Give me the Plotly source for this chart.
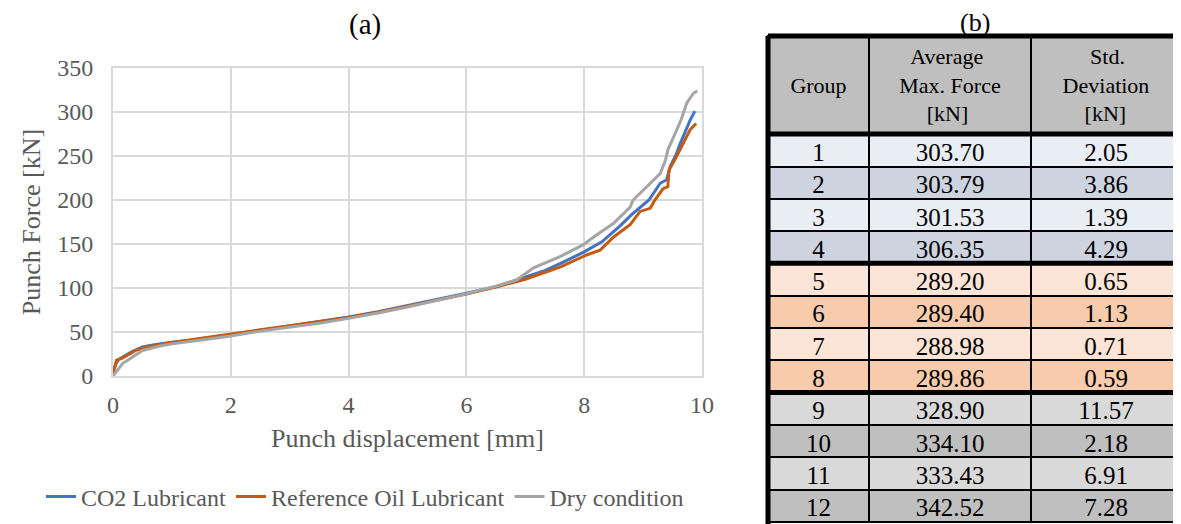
import plotly.graph_objects as go

# page has an 8px body margin: the figure is drawn in the remaining area
OFF = 8
W, H = 1181 - OFF, 524 - OFF

# ---------------- data: punch force curves ----------------
co2_x = [0, 0.05, 0.1, 0.2, 0.3, 0.4, 0.5, 0.7, 1.0, 1.5, 2.0, 2.5, 3.0, 3.5, 4.0, 4.5, 5.0, 5.5, 6.0,
         6.5, 7.0, 7.3, 7.6, 8.0, 8.3, 8.6, 8.8, 8.95, 9.1, 9.29, 9.4, 9.46, 9.55, 9.63, 9.72, 9.8, 9.88]
co2_y = [5, 14, 19, 23, 27, 30, 33, 35.5, 38.5, 42, 47, 52, 57, 62, 67, 73, 80, 86.5, 94,
         101.5, 112, 119, 128, 141, 152.5, 170, 183, 192, 200, 219, 223, 238, 250, 264, 279, 291, 301]

oil_x = [0, 0.03, 0.06, 0.15, 0.3, 0.4, 0.57, 0.9, 1.5, 2.0, 2.5, 3.0, 3.5, 4.0, 4.5, 5.0, 5.5, 6.0, 6.5,
         7.0, 7.3, 7.6, 8.04, 8.27, 8.5, 8.78, 8.95, 9.12, 9.2, 9.34, 9.42, 9.44, 9.55, 9.63, 9.72, 9.8, 9.9]
oil_y = [2, 10, 18, 20, 26, 29.5, 33, 37, 43, 48, 52.5, 57, 61.5, 66.5, 72.5, 79.5, 86, 93, 101,
         110, 117, 124, 137.5, 143, 158, 172, 187, 190.5, 200, 213, 215, 234, 247, 257, 269, 280, 287]

dry_x = [0, 0.1, 0.17, 0.25, 0.34, 0.5, 0.8, 1.0, 1.5, 2.0, 2.5, 3.0, 3.5, 4.0, 4.5, 5.0, 5.5, 6.0, 6.5,
         6.85, 7.14, 7.59, 7.98, 8.16, 8.5, 8.78, 8.83, 9.06, 9.29, 9.38, 9.42, 9.57, 9.65, 9.74, 9.85, 9.92]
dry_y = [0, 8, 14.7, 18, 22, 29, 34, 36.5, 41, 45.5, 51, 55.5, 60, 65.5, 71.5, 78.5, 86, 93.5, 102,
         109, 123, 135.6, 149, 158, 173.5, 192, 200, 215, 230, 245, 257, 279.5, 292, 310, 321, 324]

series_names = ["CO2 Lubricant", "Reference Oil Lubricant", "Dry condition"]
series_colors = ["#4472C4", "#C55A11", "#A5A5A5"]

# ---------------- data: table ----------------
groups = ["1", "2", "3", "4", "5", "6", "7", "8", "9", "10", "11", "12"]
avg_force = ["303.70", "303.79", "301.53", "306.35", "289.20", "289.40", "288.98", "289.86",
             "328.90", "334.10", "333.43", "342.52"]
std_dev = ["2.05", "3.86", "1.39", "4.29", "0.65", "1.13", "0.71", "0.59",
           "11.57", "2.18", "6.91", "7.28"]
header_lines = [["", "Group", ""],
                ["Average", "Max. Force", "[kN]"],
                ["Std.", "Deviation", "[kN]"]]
header_pad = [[0, 0, 0], [2, 0, 5], [5, 0, 4]]   # nbsp padding to centre each header line
row_colors = ["#E9EDF4", "#CDD4E0", "#E9EDF4", "#CDD4E0",
              "#FCE4D6", "#F8CBAD", "#FCE4D6", "#F8CBAD",
              "#D9D9D9", "#BFBFBF", "#D9D9D9", "#BFBFBF"]

SERIF = "Liberation Serif, Times New Roman, serif"
GRAY_TXT = "#595959"
NB = "\u00a0"

header_labels = ["<br>".join((NB * p + t) if t else NB for t, p in zip(lines, pads))
                 for lines, pads in zip(header_lines, header_pad)]


def px_x(p):
    return (p - OFF) / W


def px_y(p):
    return 1 - (p - OFF) / H


fig = go.Figure()
for xs, ys, nm, col in zip([co2_x, oil_x, dry_x], [co2_y, oil_y, dry_y], series_names, series_colors):
    fig.add_trace(go.Scatter(x=xs, y=ys, mode="lines", name=nm,
                             line=dict(color=col, width=3)))

# table geometry (reference pixels)
tab_left, tab_top = 768, 36
hdr_h, row_h = 98, 32.3
fig.add_trace(go.Table(
    domain=dict(x=[px_x(tab_left), 1.0], y=[0, px_y(tab_top)]),
    columnwidth=[101, 162, 150],
    header=dict(values=header_labels, height=hdr_h, fill_color="#BFBFBF",
                line=dict(color="black", width=2), align="center",
                font=dict(family=SERIF, size=22, color="black")),
    cells=dict(values=[groups, avg_force, std_dev], height=row_h,
               fill_color=[row_colors] * 3,
               line=dict(color="black", width=2), align="center",
               font=dict(family=SERIF, size=25, color="black")),
))

# thick separators (computed from table geometry)
shapes = []
for k in [0, 4, 8]:
    yy = tab_top + hdr_h + k * row_h
    shapes.append(dict(type="line", xref="paper", yref="paper", x0=px_x(tab_left), x1=1,
                       y0=px_y(yy), y1=px_y(yy), line=dict(color="black", width=5)))
shapes.append(dict(type="line", xref="paper", yref="paper", x0=px_x(tab_left), x1=1,
                   y0=px_y(tab_top), y1=px_y(tab_top), line=dict(color="black", width=5)))
shapes.append(dict(type="line", xref="paper", yref="paper", x0=px_x(tab_left), x1=px_x(tab_left),
                   y0=0, y1=px_y(tab_top), line=dict(color="black", width=5)))

fig.update_layout(
    width=W, height=H,
    margin=dict(l=0, r=0, t=0, b=0, autoexpand=False),
    paper_bgcolor="white", plot_bgcolor="white",
    showlegend=True,
    legend=dict(orientation="h", x=px_x(365), y=px_y(497), xanchor="center", yanchor="middle",
                font=dict(family=SERIF, size=24, color=GRAY_TXT),
                bgcolor="rgba(0,0,0,0)"),
    xaxis=dict(domain=[px_x(113), px_x(702)], range=[0, 10], tickvals=[0, 2, 4, 6, 8, 10],
               showgrid=True, gridcolor="#D9D9D9", gridwidth=2, zeroline=False,
               showline=True, linecolor="#D9D9D9", linewidth=2, mirror=True,
               automargin=False,
               tickfont=dict(family=SERIF, size=24, color=GRAY_TXT), ticks="",
               ticklabelstandoff=6,
               title=dict(text="Punch displacement [mm]", standoff=12,
                          font=dict(family=SERIF, size=26, color=GRAY_TXT))),
    yaxis=dict(domain=[px_y(376), px_y(68)], range=[0, 350], dtick=50,
               showgrid=True, gridcolor="#D9D9D9", gridwidth=2, zeroline=False,
               showline=True, linecolor="#D9D9D9", linewidth=2, mirror=True,
               automargin=False,
               tickfont=dict(family=SERIF, size=24, color=GRAY_TXT), ticks="",
               ticklabelstandoff=13,
               title=dict(text="Punch Force [kN]", standoff=9,
                          font=dict(family=SERIF, size=26, color=GRAY_TXT))),
    shapes=shapes,
    annotations=[
        dict(text="(a)", x=px_x(365), y=px_y(24), xref="paper", yref="paper", showarrow=False,
             xanchor="center", yanchor="middle",
             font=dict(family=SERIF, size=29, color="black")),
        dict(text="(b)", x=px_x(975), y=px_y(22), xref="paper", yref="paper", showarrow=False,
             xanchor="center", yanchor="middle",
             font=dict(family=SERIF, size=26, color="black")),
    ],
)

fig.write_html("out.html")
